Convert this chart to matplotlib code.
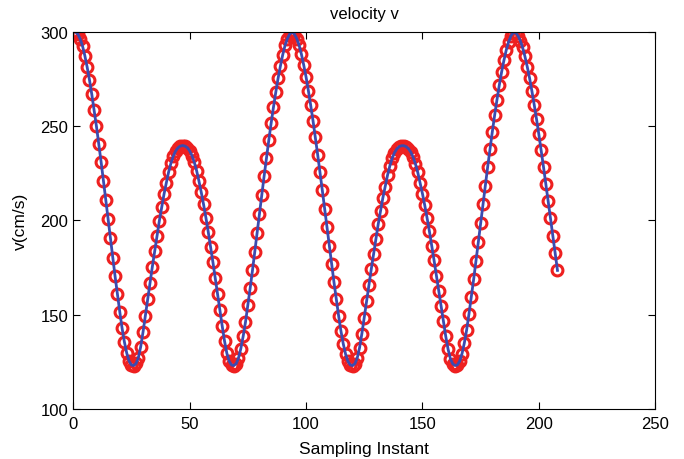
import numpy as np
import matplotlib.pyplot as plt

plt.rcParams['font.family'] = ['Liberation Sans', 'DejaVu Sans']

# sampling instants (1-based, as in the original plot)
samples = list(range(1, 209))

# velocity, cm/s
velocity = [
    300, 299, 296.4, 292.7, 287.5, 281.4, 274.6, 266.9, 258.6, 249.9,
    240.6, 231, 221.1, 210.9, 200.7, 190.5, 180.3, 170.3, 160.8, 151.6,
    142.8, 135.5, 129.6, 125.4, 123.3, 123,
    124.1, 127.2, 133, 140.8, 149.5, 158.1, 166.8, 175.5, 183.7, 191.9,
    199.8, 207, 213.9, 220, 225.8, 230.5, 234.2, 236.9, 238.6, 239.5, 239.8,
    239.5, 238.7, 237, 234.5, 231, 226.5, 221, 215, 208.5, 201.5,
    194, 186, 178, 169.5, 161, 152.5, 144, 136, 129.5, 125.3, 123.3,
    123, 124, 127, 132, 138.5, 146, 155, 164, 173.5, 183.5,
    193.5, 203.5, 213.5, 223.5, 233, 242.5, 251.5, 260, 268, 275.5,
    282, 288, 293, 296.5, 299, 300,
    299, 296.6, 293.2, 288.4, 282.6, 276.3, 269, 261.2, 253, 244.2,
    235, 225.7, 216, 206.2, 196.4, 186.6, 176.8, 167.3, 158.2, 149.4,
    141.3, 134.5, 129, 125.2, 123.3, 123,
    124, 127, 132.5, 140, 148.5, 157, 165.5, 174, 182, 190,
    198, 205, 212, 218, 224, 229, 233, 236, 238, 239.2, 239.7,
    239.7, 239.2, 238.1, 236.3, 233.6, 230, 225.5, 220, 214.3, 208,
    201.3, 194.2, 186.5, 178.8, 170.7, 162.5, 154.7, 146.5, 138.6, 131.7,
    126.7, 123.9, 123,
    123.3, 125.3, 129.3, 135, 142, 150.5, 159.5, 168.8, 178.5, 188.5,
    198.5, 208.5, 218.5, 228.3, 237.8, 247, 255.8, 264, 271.8, 278.8,
    285, 290.5, 294.8, 298, 299.7,
    299.7, 298.2, 295.5, 291.9, 287.2, 281.7, 275.7, 268.8, 261.5, 253.8,
    245.7, 237.2, 228.4, 219.4, 210.3, 201.1, 191.9, 182.7, 173.5,
]

fig = plt.figure(figsize=(6.84, 4.6), dpi=100)
ax = fig.add_axes([0.107, 0.109, 0.851, 0.819])

ax.plot(samples, velocity, 'o', markerfacecolor='none', markeredgecolor='#ee2020',
        markersize=7.8, markeredgewidth=2.2)
ax.plot(samples, velocity, '-', color='#3b4bb0', linewidth=2)

ax.set_xlim(0, 250)
ax.set_ylim(100, 300)
ax.set_xticks([0, 50, 100, 150, 200, 250])
ax.set_yticks([100, 150, 200, 250, 300])
ax.tick_params(direction='in', top=True, right=True, length=5, labelsize=12)
ax.tick_params(axis='x', pad=5)
for s in ax.spines.values():
    s.set_linewidth(0.8)

ax.set_title('velocity v', fontsize=12, pad=10)
ax.set_xlabel('Sampling Instant', fontsize=12.5, labelpad=7)
ax.set_ylabel('v(cm/s)', fontsize=12.5, labelpad=9)

fig.savefig('out.png', dpi=100)
